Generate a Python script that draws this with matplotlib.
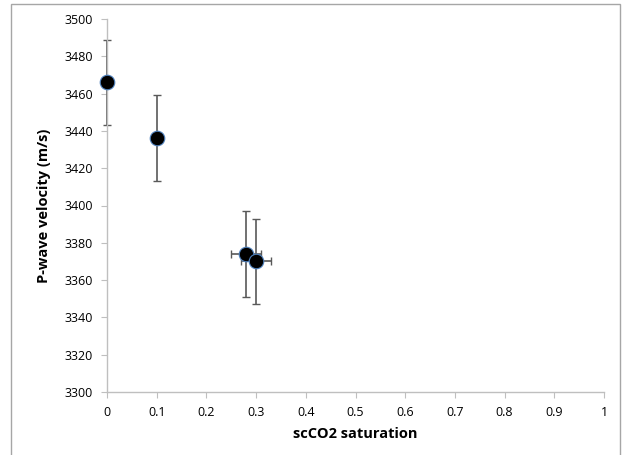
import matplotlib
matplotlib.use("Agg")
import matplotlib.pyplot as plt
from matplotlib.patches import Rectangle

plt.rcParams['font.family'] = ['Open Sans', 'DejaVu Sans']

saturation = [0.0, 0.10, 0.28, 0.30]
velocity = [3466, 3436, 3374, 3370]
vel_err = [23, 23, 23, 23]
sat_err = [0.0, 0.0, 0.03, 0.03]
xticks = [0, 0.1, 0.2, 0.3, 0.4, 0.5, 0.6, 0.7, 0.8, 0.9, 1]
yticks = [3300, 3320, 3340, 3360, 3380, 3400, 3420, 3440, 3460, 3480, 3500]

W, H = 627, 455
fig = plt.figure(figsize=(W/100, H/100), dpi=100)
fig.patches.append(Rectangle((11/W, -0.1), (620-11)/W, 1.1 - 4/H, transform=fig.transFigure,
                             fill=False, edgecolor='#A6A6A6', linewidth=1.0))
ax = fig.add_axes([107/W, 1-392/H, (604-107)/W, (392-19)/H])

for i in range(len(saturation)):
    xe = sat_err[i] if sat_err[i] > 0 else None
    cont = ax.errorbar(saturation[i], velocity[i], yerr=vel_err[i], xerr=xe, fmt='none',
                       ecolor='#595959', elinewidth=1.2, capsize=3, capthick=1.0, zorder=2)
    for art in cont.get_children():
        art.set_clip_on(False)
ax.scatter(saturation, velocity, s=110, color='black', edgecolors='#4F81BD',
           linewidths=0.8, zorder=3, clip_on=False)

ax.set_xlim(0, 1)
ax.set_ylim(3300, 3500)
ax.set_xticks(xticks)
ax.set_xticklabels([f"{t:g}" for t in xticks])
ax.set_yticks(yticks)
ax.set_yticklabels([str(t) for t in yticks])
for s in ['top', 'right']:
    ax.spines[s].set_visible(False)
for s in ['left', 'bottom']:
    ax.spines[s].set_color('#BFBFBF')
    ax.spines[s].set_linewidth(1.0)
ax.tick_params(axis='both', colors='#BFBFBF', labelcolor='black', labelsize=9,
               length=4, direction='out', pad=6)
ax.set_xlabel('scCO2 saturation', fontsize=10.5, fontweight='bold', labelpad=6)
ax.set_ylabel('P-wave velocity (m/s)', fontsize=10.5, fontweight='bold', labelpad=10)

fig.savefig('out.png', dpi=100)
